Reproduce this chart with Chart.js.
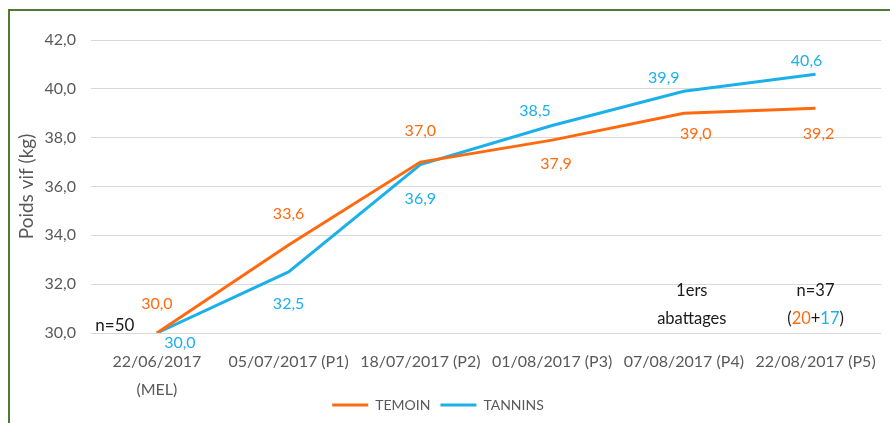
<!DOCTYPE html>
<html lang="fr">
<head>
  <meta charset="UTF-8">
  <title>Poids vif</title>
  <style>
    html, body { margin: 0; padding: 0; background: #fff; }
    #wrap { position: relative; width: 890px; height: 423px; }
  </style>
</head>
<body>
  <div id="wrap">
    <canvas id="poidsChart" width="890" height="423"></canvas>
  </div>
  <script src="https://cdn.jsdelivr.net/npm/chart.js"></script>
  <script>
    // data
    const dates = [
      ['22/06/2017', '(MEL)'],
      '05/07/2017 (P1)',
      '18/07/2017 (P2)',
      '01/08/2017 (P3)',
      '07/08/2017 (P4)',
      '22/08/2017 (P5)'
    ];
    const temoin = [30.0, 33.6, 37.0, 37.9, 39.0, 39.2];
    const tannins = [30.0, 32.5, 36.9, 38.5, 39.9, 40.6];
    const yTicks = [30, 32, 34, 36, 38, 40, 42];

    // label placement (dx, dy from the point)
    const temoinLabelPos = [[0, -29], [0, -31], [0, -31], [4, 24], [12, 21], [3, 25]];
    const tanninsLabelPos = [[23, 10], [0, 32], [0, 34], [-17, -15], [-20, -13], [-9, -13]];

    const orange = '#FF6A10';
    const blue = '#1CB0EA';
    const grey = '#595959';
    const fontFam = 'Lato, "Open Sans", sans-serif';

    const fmt = v => v.toFixed(1).replace('.', ',');

    const frame = {
      id: 'frame',
      beforeDraw(chart) {
        const c = chart.ctx;
        c.save();
        c.fillStyle = '#fff';
        c.fillRect(0, 0, chart.width, chart.height);
        c.strokeStyle = '#4E7A32';
        c.lineWidth = 2;
        c.beginPath();
        c.moveTo(9, chart.height);
        c.lineTo(9, 10);
        c.lineTo(chart.width, 10);
        c.stroke();
        c.restore();
      }
    };

    // let the 2-line date label spill under the axis box, nudge the legend
    const tweakLayout = {
      id: 'tweakLayout',
      afterLayout(chart) {
        chart.scales.x.bottom = chart.height;
        const lg = chart.legend;
        lg.left -= 10; lg.right -= 10;
      }
    };

    const valueLabels = {
      id: 'valueLabels',
      afterDatasetsDraw(chart) {
        const c = chart.ctx;
        const sets = [[0, temoinLabelPos, orange], [1, tanninsLabelPos, blue]];
        c.save();
        c.font = '16px ' + fontFam;
        c.textAlign = 'center';
        c.textBaseline = 'middle';
        sets.forEach(([i, pos, col]) => {
          const meta = chart.getDatasetMeta(i);
          const vals = chart.data.datasets[i].data;
          meta.data.forEach((pt, j) => {
            c.fillStyle = col;
            c.fillText(fmt(vals[j]), pt.x + pos[j][0], pt.y + pos[j][1]);
          });
        });
        c.restore();
      }
    };

    const notes = {
      id: 'notes',
      afterDraw(chart) {
        const c = chart.ctx;
        const x = chart.scales.x, y = chart.scales.y;
        c.save();
        c.textBaseline = 'middle';
        c.fillStyle = '#1a1a1a';
        c.font = '17px ' + fontFam;
        c.textAlign = 'center';
        c.fillText('n=50', x.getPixelForValue(0) - 42, y.getPixelForValue(30) - 7);

        c.font = '16.5px ' + fontFam;
        const x4 = x.getPixelForValue(4) + 8;
        c.fillText('1ers', x4, y.getPixelForValue(31.75));
        c.fillText('abattages', x4, y.getPixelForValue(30.6));

        const x5 = x.getPixelForValue(5);
        c.fillText('n=37', x5, y.getPixelForValue(31.75));
        const parts = [['(', '#1a1a1a'], ['20', orange], ['+', '#1a1a1a'], ['17', blue], [')', '#1a1a1a']];
        const total = parts.reduce((s, p) => s + c.measureText(p[0]).width, 0);
        let px = x5 - total / 2;
        c.textAlign = 'left';
        parts.forEach(([t, col]) => {
          c.fillStyle = col;
          c.fillText(t, px, y.getPixelForValue(30.6));
          px += c.measureText(t).width;
        });
        c.restore();
      }
    };

    new Chart(document.getElementById('poidsChart'), {
      type: 'line',
      data: {
        labels: dates,
        datasets: [
          { label: 'TEMOIN', data: temoin, borderColor: orange, backgroundColor: orange, borderWidth: 3, pointRadius: 0, tension: 0 },
          { label: 'TANNINS', data: tannins, borderColor: blue, backgroundColor: blue, borderWidth: 3, pointRadius: 0, tension: 0 }
        ]
      },
      options: {
        responsive: false,
        animation: false,
        layout: { padding: { left: 10, right: 4, top: 40, bottom: 1 } },
        plugins: {
          tooltip: { enabled: false },
          legend: {
            position: 'bottom',
            labels: {
              usePointStyle: true,
              pointStyle: 'line',
              pointStyleWidth: 36,
              boxHeight: 12,
              color: grey,
              font: { family: fontFam, size: 14 },
              padding: 10
            }
          }
        },
        scales: {
          x: {
            offset: true,
            grid: { display: false, drawTicks: false },
            border: { display: false },
            ticks: { color: grey, font: { family: fontFam, size: 16, lineHeight: 1.8 }, maxRotation: 0, autoSkip: false, padding: 14 },
            afterFit(s) { s.height = 55; }
          },
          y: {
            min: 30,
            max: 42,
            afterBuildTicks(s) { s.ticks = yTicks.map(v => ({ value: v })); },
            grid: { color: '#D9D9D9', lineWidth: 1, drawTicks: false },
            border: { display: false },
            ticks: { color: grey, font: { family: fontFam, size: 16 }, padding: 15, callback: v => fmt(v) },
            title: { display: true, text: 'Poids vif (kg)', color: grey, font: { family: fontFam, size: 19 }, padding: { top: 5, bottom: 0 } },
            afterFit(s) { s.width = 81; }
          }
        }
      },
      plugins: [frame, tweakLayout, valueLabels, notes]
    });
  </script>
</body>
</html>
